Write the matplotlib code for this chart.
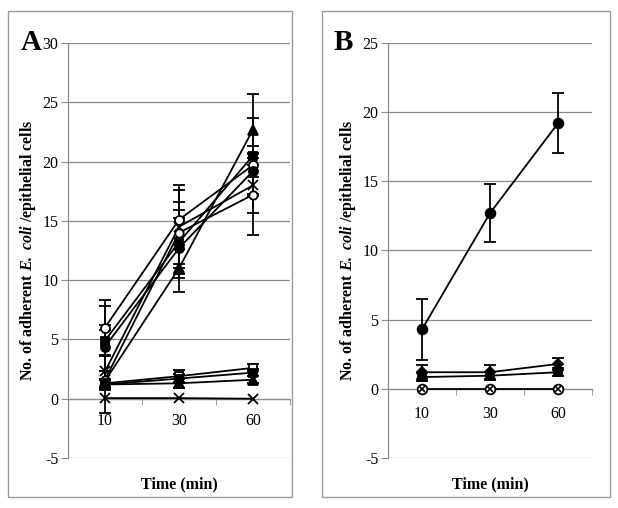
import matplotlib
matplotlib.use("Agg")
import matplotlib.pyplot as plt
from matplotlib.patches import Rectangle

plt.rcParams['font.family'] = ['Liberation Serif', 'DejaVu Serif']
plt.rcParams['axes.unicode_minus'] = False
plt.rcParams['mathtext.fontset'] = 'custom'
plt.rcParams['mathtext.rm'] = 'Liberation Serif'
plt.rcParams['mathtext.bf'] = 'Liberation Serif:bold'
plt.rcParams['mathtext.it'] = 'Liberation Serif:italic'
plt.rcParams['mathtext.bfit'] = 'Liberation Serif:bold:italic'

times = ['10', '30', '60']

# Panel A series (mean, sd)
a_open_circle = [6.0, 15.1, 19.7];   a_open_circle_err = [2.3, 2.5, 1.0]
a_fill_circle = [4.4, 12.7, 19.2];   a_fill_circle_err = [3.4, 2.5, 2.1]
a_fill_square = [4.9, 13.2, 20.5];   a_fill_square_err = [1.3, 2.7, 3.2]
a_triangle = [1.5, 11.0, 22.7];      a_triangle_err = [0.8, 2.0, 3.0]
a_cross_hi = [2.3, 14.5, 18.0];      a_cross_hi_err = [3.5, 3.5, 2.3]
a_diamond = [1.6, 14.0, 17.2];       a_diamond_err = [0.7, 2.6, 3.4]
a_open_square = [1.3, 1.9, 2.6];     a_open_square_err = [0.4, 0.5, 0.3]
a_fill_square_lo = [1.2, 1.7, 2.2];  a_fill_square_lo_err = [0.4, 0.4, 0.3]
a_triangle_lo = [1.2, 1.3, 1.6];     a_triangle_lo_err = [0.4, 0.4, 0.3]
a_cross_lo = [0.05, 0.05, 0.0]

# Panel B series
b_fill_circle = [4.3, 12.7, 19.2];   b_fill_circle_err = [2.2, 2.1, 2.15]
b_diamond = [1.2, 1.2, 1.8];         b_diamond_err = [0.5, 0.5, 0.45]
b_square = [0.85, 0.95, 1.2];        b_square_err = [0.3, 0.3, 0.3]
b_zero = [0.0, 0.0, 0.0]

W, H = 618, 508
fig = plt.figure(figsize=(W / 100, H / 100), dpi=100)

# panel boxes
for x0, x1 in [(8, 292), (322, 610)]:
    fig.patches.append(Rectangle((x0 / W, 11 / H), (x1 - x0) / W, (497 - 11) / H,
                                 transform=fig.transFigure, fill=False,
                                 edgecolor='#9a9a9a', lw=1.0))

grid_c = '#8c8c8c'
ylabel = r"No. of adherent $\mathbfit{E.\ coli}$ /epithelial cells"


def setup(ax, ymin, ymax, xpad):
    ax.set_xlim(-0.5, 2.5)
    ax.set_ylim(ymin, ymax)
    ax.set_yticks(range(ymin, ymax + 1, 5))
    ax.yaxis.grid(True, color=grid_c, lw=0.9)
    ax.set_axisbelow(True)
    for s in ['top', 'right']:
        ax.spines[s].set_visible(False)
    ax.spines['left'].set_color(grid_c)
    ax.spines['left'].set_linewidth(0.9)
    ax.spines['bottom'].set_position(('data', 0))
    ax.spines['bottom'].set_color(grid_c)
    ax.spines['bottom'].set_linewidth(0.9)
    ax.tick_params(axis='y', direction='out', length=5, color=grid_c, labelsize=11.5, pad=2)
    ax.set_xticks([0, 1, 2])
    ax.set_xticklabels(times)
    ax.set_xticks([0.5, 1.5, 2.5], minor=True)
    ax.tick_params(axis='x', which='major', length=0, labelsize=11.5, pad=xpad)
    ax.tick_params(axis='x', which='minor', direction='out', length=4, color=grid_c)
    ax.set_ylabel(ylabel, fontsize=11.5, fontweight='bold')
    ax.set_xlabel('Time (min)', fontsize=11.5, fontweight='bold')


def series(ax, y, err, marker, fc='black', ms=6.5):
    x = list(range(len(times)))
    if err is not None:
        ax.errorbar(x, y, yerr=err, fmt='none', ecolor='black', elinewidth=1.3,
                    capsize=4, capthick=1.3, zorder=3)
    ax.plot(x, y, color='black', lw=1.3, marker=marker, ms=ms, mfc=fc,
            mec='black', mew=1.3, zorder=4, clip_on=False)


# Panel A
axA = fig.add_axes([68 / W, 1 - 458 / H, (290 - 68) / W, (458 - 43) / H])
setup(axA, -5, 30, 10)
series(axA, a_open_circle, a_open_circle_err, 'o', 'white')
series(axA, a_fill_circle, a_fill_circle_err, 'o')
series(axA, a_fill_square, a_fill_square_err, 's', ms=6)
series(axA, a_triangle, a_triangle_err, '^')
series(axA, a_cross_hi, a_cross_hi_err, 'x', ms=7)
series(axA, a_diamond, a_diamond_err, 'o', 'white', ms=6)
series(axA, a_open_square, a_open_square_err, 's', 'white', ms=6)
series(axA, a_fill_square_lo, a_fill_square_lo_err, 's', ms=6)
series(axA, a_triangle_lo, a_triangle_lo_err, '^')
series(axA, a_cross_lo, None, 'x', ms=7)
axA.xaxis.set_label_coords(0.5, -0.045)
axA.yaxis.set_label_coords(-0.135, 0.5)

# Panel B
axB = fig.add_axes([388 / W, 1 - 458 / H, (592 - 388) / W, (458 - 43) / H])
setup(axB, -5, 25, 12)
series(axB, b_fill_circle, b_fill_circle_err, 'o', ms=7)
series(axB, b_diamond, b_diamond_err, 'D', ms=5.5)
series(axB, b_square, b_square_err, 's', ms=6)
series(axB, b_zero, None, 'o', 'white', ms=7)
axB.plot(range(len(times)), b_zero, ls='none', marker='x', ms=5, color='black', mew=1.2,
         zorder=5, clip_on=False)
axB.xaxis.set_label_coords(0.5, -0.045)
axB.yaxis.set_label_coords(-0.147, 0.5)

fig.text(31 / W, 1 - 43 / H, 'A', fontsize=21, fontweight='bold', ha='center', va='center')
fig.text(343 / W, 1 - 43 / H, 'B', fontsize=21, fontweight='bold', ha='center', va='center')

fig.savefig('out.png', dpi=100)
